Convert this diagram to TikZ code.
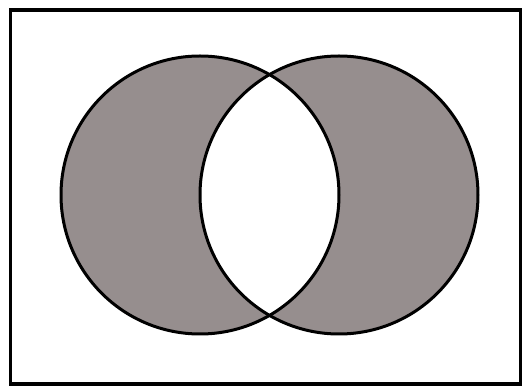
\documentclass[tikz,border=0pt]{standalone}
\definecolor{vennfill}{RGB}{150,142,142}
\tikzset{venn/.style={line width=3pt,draw=black}}
\begin{document}
\begin{tikzpicture}[x=1pt,y=-1pt]
\useasboundingbox (0,0) rectangle (523,387);
\node[draw=black,line width=3.5pt,minimum width=510pt,minimum height=374pt,inner sep=0pt] (frame) at (265.5,197) {};
\coordinate (A) at (200,195);
\coordinate (B) at (339,195);
\fill[fill=vennfill,even odd rule] (A) circle[radius=139] (B) circle[radius=139];
\draw[venn] (A) circle[radius=139];
\draw[venn] (B) circle[radius=139];
\end{tikzpicture}
\end{document}
